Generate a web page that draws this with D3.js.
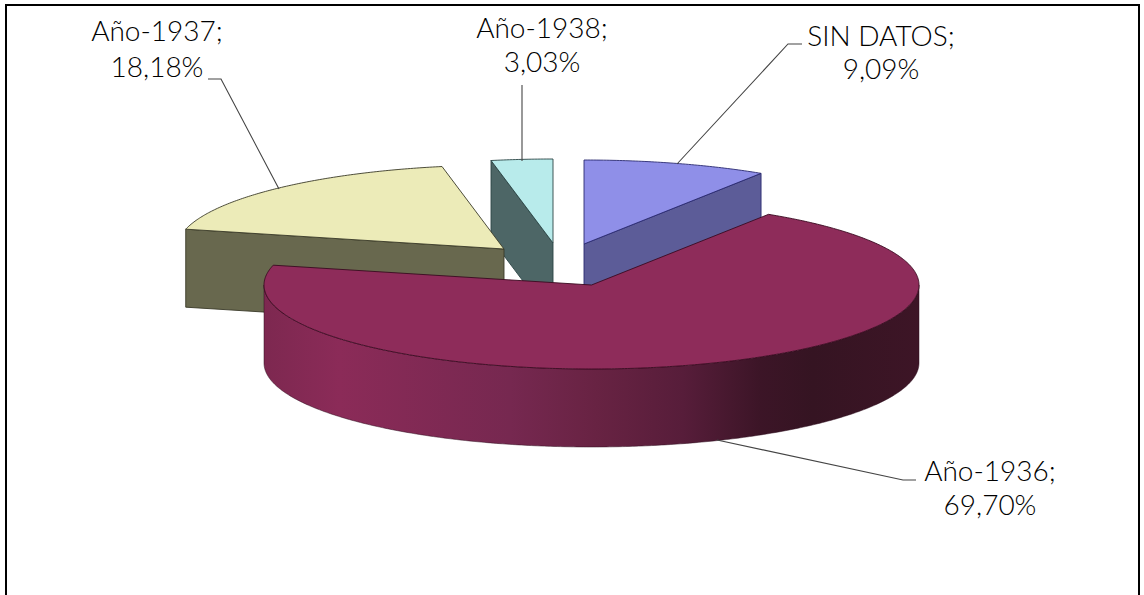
<!DOCTYPE html>
<html><head><meta charset="utf-8">
<script src="https://cdn.jsdelivr.net/npm/d3@7/dist/d3.min.js"></script>
<style>html,body{margin:0;padding:0;background:#fff}svg{display:block}
text{font-family:"Lato","Open Sans",sans-serif;font-weight:300;fill:#000;text-anchor:middle}</style>
</head><body><svg id="c" width="1144" height="595"></svg>
<script>
const categories = ["SIN DATOS","Año-1936","Año-1938","Año-1937"];
const labelLine2 = ["9,09%","69,70%","3,03%","18,18%"];
const values = [9.09,69.70,3.03,18.18];
// pie order, clockwise from 12 o'clock
const order = ["SIN DATOS","Año-1936","Año-1937","Año-1938"];
const topColors = {"SIN DATOS":"#8f8fe8","Año-1936":"#8e2c5a","Año-1937":"#ecebb8","Año-1938":"#b8ebeb"};
const wallColors = {"SIN DATOS":"#5c5c98","Año-1936":"#7a2850","Año-1937":"#68684e","Año-1938":"#4d6666"};
const strokes = {"SIN DATOS":"#2a2a70","Año-1936":"#3a0a20","Año-1937":"#3a3a28","Año-1938":"#2a4444"};

// layout
const centre = {x:591.5,y:285}, rx=327.5, ry=84, depth=78;
const explode = {"SIN DATOS":[-7.5,-41],"Año-1936":[0,0],"Año-1937":[-87.5,-36],"Año-1938":[-38.5,-42]};
const labels = {
 "SIN DATOS":{x:881,y:[46,79]},
 "Año-1936":{x:990,y:[481,515]},
 "Año-1937":{x:157,y:[41,77]},
 "Año-1938":{x:542,y:[38,72]}
};
const leaders = {
 "SIN DATOS":[[802,44],[788,44],[677,164]],
 "Año-1936":[[916,480],[903,480],[717,440]],
 "Año-1937":[[208,79],[221,79],[279,189]],
 "Año-1938":[[522,85],[522,161]]
};

const svg = d3.select("#c");
const byName = new Map(categories.map((c,i)=>[c,values[i]]));
const pie = d3.pie().sort(null).value(d=>byName.get(d)).startAngle(0).endAngle(2*Math.PI);
const arcs = new Map(pie(order).map(a=>[a.data,a]));

const line = d3.line();
function pt(name,ang,dy=0){
  const o=explode[name];
  return [centre.x+o[0]+rx*Math.sin(ang), centre.y+o[1]-ry*Math.cos(ang)+dy];
}
function apex(name,dy=0){const o=explode[name];return [centre.x+o[0],centre.y+o[1]+dy];}
function rim(name,a0,a1,dy=0){
  const n=Math.max(2,Math.ceil(Math.abs(a1-a0)/0.01));
  return d3.range(n+1).map(i=>pt(name,a0+(a1-a0)*i/n,dy));
}
function topPath(name){
  const a=arcs.get(name);
  return line([apex(name),...rim(name,a.startAngle,a.endAngle)])+"Z";
}
// cut face at a given angle
function cutFace(name,ang){
  return line([apex(name),pt(name,ang),pt(name,ang,depth),apex(name,depth)])+"Z";
}

// frame
svg.append("path").attr("d",line([[6,595],[6,5],[1139,5],[1139,595]]))
  .attr("fill","none").attr("stroke","#000").attr("stroke-width",2);

// gradient for the main outer wall
const stops=[[0,"#7d2850"],[0.115,"#8b2b58"],[0.376,"#762850"],[0.507,"#682343"],[0.64,"#571d3a"],[0.757,"#3c1527"],[0.838,"#351422"],[1,"#3d1526"]];
const g=svg.append("defs").append("linearGradient").attr("id","wall").attr("gradientUnits","userSpaceOnUse")
  .attr("x1",centre.x-rx).attr("x2",centre.x+rx).attr("y1",0).attr("y2",0);
g.selectAll("stop").data(stops).join("stop").attr("offset",d=>d[0]).attr("stop-color",d=>d[1]);

const sw=0.9;
function face(d,fill,stroke){svg.append("path").attr("d",d).attr("fill",fill).attr("stroke",stroke).attr("stroke-width",sw).attr("stroke-linejoin","round");}

// Año-1938
let n="Año-1938", a=arcs.get(n);
face(cutFace(n,a.startAngle),wallColors[n],strokes[n]);
face(topPath(n),topColors[n],strokes[n]);
// Año-1937
n="Año-1937"; a=arcs.get(n);
face(cutFace(n,a.startAngle),wallColors[n],strokes[n]);
face(topPath(n),topColors[n],strokes[n]);
// SIN DATOS
n="SIN DATOS"; a=arcs.get(n);
face(cutFace(n,a.endAngle),wallColors[n],strokes[n]);
face(topPath(n),topColors[n],"#2a2a70");
// Año-1936 (outer wall, then top)
n="Año-1936"; a=arcs.get(n);
const wallPts=[...rim(n,Math.PI/2,3*Math.PI/2),...rim(n,3*Math.PI/2,Math.PI/2,depth)];
svg.append("path").attr("d",line(wallPts)+"Z").attr("fill","url(#wall)").attr("stroke","#2e0f1e").attr("stroke-width",0.5);
face(topPath(n),topColors[n],strokes[n]);

// leader lines
order.forEach(k=>{
  svg.append("path").attr("d",line(leaders[k])).attr("fill","none").attr("stroke","#444").attr("stroke-width",1.1);
});
// labels
categories.forEach((c,i)=>{
  const L=labels[c];
  svg.append("text").attr("x",L.x).attr("y",L.y[0]).attr("font-size",28).text(c+";");
  svg.append("text").attr("x",L.x).attr("y",L.y[1]).attr("font-size",28).text(labelLine2[i]);
});
</script></body></html>
